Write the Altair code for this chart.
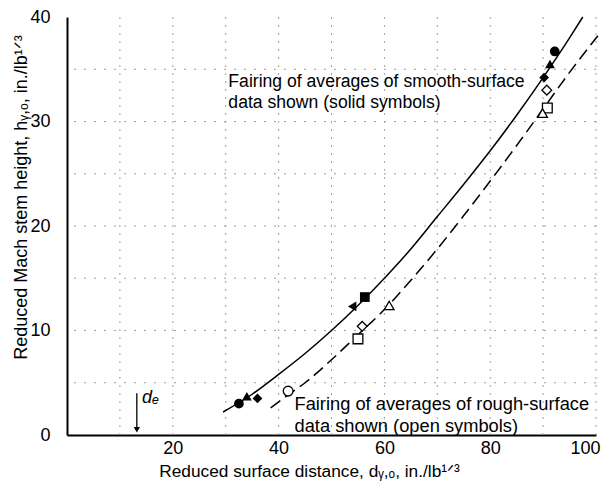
import altair as alt
import pandas as pd

FONT = "Liberation Sans"

# Fairing curves
smooth_x = [29.5, 35, 40, 45, 50, 55, 60, 65, 70, 75, 80, 85, 90, 95, 97.5]
smooth_y = [2.2, 3.9, 5.8, 7.8, 10.0, 12.4, 15.0, 17.8, 20.9, 24.0, 27.2, 30.6, 34.2, 38.0, 40.0]
rough_x = [38.5, 42, 45, 50, 55, 60, 65, 70, 75, 80, 85, 90, 95, 100.5]
rough_y = [2.6, 3.9, 5.0, 7.2, 9.6, 12.0, 14.8, 17.8, 21.0, 24.3, 27.7, 31.2, 34.7, 38.3]

# Solid symbols (smooth surface)
solid_x = [32.5, 34.0, 36.0, 53.9, 56.3, 90.2, 91.3, 92.2]
solid_y = [3.0, 3.7, 3.5, 12.3, 13.2, 34.2, 35.5, 36.7]
solid_shape = ["circle", "triangle-up", "diamond", "triangle-left", "square", "diamond", "triangle-up", "circle"]

# Open symbols (rough surface)
open_x = [41.8, 55.0, 55.8, 60.9, 90.7, 90.8, 89.9]
open_y = [4.2, 9.2, 10.4, 12.4, 33.0, 31.3, 30.8]
open_shape = ["circle", "square", "diamond", "triangle-up", "diamond", "square", "triangle-up"]

x_ticks = [20, 40, 60, 80, 100]
y_ticks = [0, 10, 20, 30, 40]
x_grid = [10, 20, 30, 40, 50, 60, 70, 80, 90, 100]
y_grid = [5, 10, 15, 20, 25, 30, 35]

xs = alt.Scale(domain=[0, 100], nice=False)
ys = alt.Scale(domain=[0, 40], nice=False)

x_axis = alt.Axis(values=x_ticks, title="Reduced surface distance, dᵧ,ₒ, in./lb¹ᐟ³",
                  grid=False, ticks=False, labelPadding=4,
                  labelFlush=True, labelFlushOffset=4,
                  titleX=242, titleY=27, titleFontSize=17.3)
y_axis = alt.Axis(values=y_ticks, title="Reduced Mach stem height, hᵧ,ₒ, in./lb¹ᐟ³",
                  grid=False, ticks=False, labelPadding=17, titleX=-37, titleY=180,
                  labelFlush=False, titleFontSize=18)

vgrid = alt.Chart(pd.DataFrame({"x": x_grid})).mark_rule(
    color="#a0a0a0", strokeWidth=1, strokeDash=[2, 6]
).encode(x=alt.X("x:Q", scale=xs, axis=x_axis))

hgrid = alt.Chart(pd.DataFrame({"y": y_grid})).mark_rule(
    color="#a0a0a0", strokeWidth=1, strokeDash=[2, 8]
).encode(y=alt.Y("y:Q", scale=ys, axis=y_axis))

smooth = alt.Chart(pd.DataFrame({"x": smooth_x, "y": smooth_y})).mark_line(
    color="black", strokeWidth=1.5, interpolate="monotone"
).encode(x=alt.X("x:Q", scale=xs), y=alt.Y("y:Q", scale=ys))

rough = alt.Chart(pd.DataFrame({"x": rough_x, "y": rough_y})).mark_line(
    color="black", strokeWidth=1.5, strokeDash=[12, 6], interpolate="monotone"
).encode(x=alt.X("x:Q", scale=xs), y=alt.Y("y:Q", scale=ys))

solid_pts = alt.Chart(pd.DataFrame({"x": solid_x, "y": solid_y, "s": solid_shape})).mark_point(
    filled=True, color="black", size=95, opacity=1
).encode(x=alt.X("x:Q", scale=xs), y=alt.Y("y:Q", scale=ys), shape=alt.Shape("s:N", scale=None))

open_pts = alt.Chart(pd.DataFrame({"x": open_x, "y": open_y, "s": open_shape})).mark_point(
    filled=True, fill="white", stroke="black", strokeWidth=1.3, size=95, opacity=1
).encode(x=alt.X("x:Q", scale=xs), y=alt.Y("y:Q", scale=ys), shape=alt.Shape("s:N", scale=None))

# Annotations
ann1 = pd.DataFrame({"x": [30.5, 30.5], "y": [33.8, 31.8],
                     "t": ["Fairing of averages of smooth-surface", "data shown (solid symbols)"]})
ann2 = pd.DataFrame({"x": [43.0, 43.0], "y": [2.85, 0.8],
                     "t": ["Fairing of averages of rough-surface", "data shown (open symbols)"]})
text1 = alt.Chart(ann1).mark_text(align="left", baseline="middle", font=FONT, fontSize=17.6, color="black").encode(
    x=alt.X("x:Q", scale=xs), y=alt.Y("y:Q", scale=ys), text="t:N")
text2 = alt.Chart(ann2).mark_text(align="left", baseline="middle", font=FONT, fontSize=18.3, color="black").encode(
    x=alt.X("x:Q", scale=xs), y=alt.Y("y:Q", scale=ys), text="t:N")

de_x = [13.2]
de_top = [4.0]
de_bot = [0.7]
arrow_line = alt.Chart(pd.DataFrame({"x": de_x, "y": de_top, "y2": de_bot})).mark_rule(
    color="black", strokeWidth=1.3
).encode(x=alt.X("x:Q", scale=xs), y=alt.Y("y:Q", scale=ys), y2="y2:Q")
arrow_head = alt.Chart(pd.DataFrame({"x": de_x, "y": [0.5]})).mark_point(
    shape="triangle-down", filled=True, color="black", size=40, opacity=1
).encode(x=alt.X("x:Q", scale=xs), y=alt.Y("y:Q", scale=ys))
de_text = alt.Chart(pd.DataFrame({"x": [14.2], "y": [3.5], "t": ["dₑ"]})).mark_text(
    align="left", baseline="middle", font=FONT, fontSize=18, fontStyle="italic", color="black"
).encode(x=alt.X("x:Q", scale=xs), y=alt.Y("y:Q", scale=ys), text="t:N")

chart = alt.layer(
    vgrid, hgrid, rough, smooth, open_pts, solid_pts, text1, text2, arrow_line, arrow_head, de_text
).properties(
    width=529, height=418,
    autosize=alt.AutoSizeParams(type="none"),
    padding={"left": 59, "top": 9, "right": 5, "bottom": 48},
).configure_view(stroke=None).configure_axis(
    domainColor="black", domainWidth=2,
    labelFont=FONT, labelFontSize=18, labelColor="black",
    titleFont=FONT, titleFontWeight="normal", titleColor="black",
)

chart.save("out.html", embed_options={"renderer": "svg", "actions": False})
